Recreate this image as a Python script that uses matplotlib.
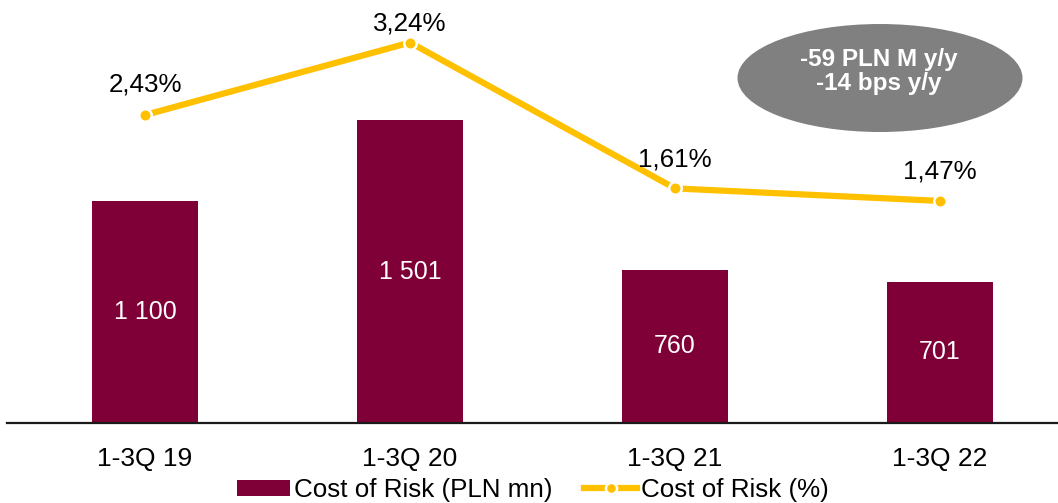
import matplotlib
matplotlib.use("Agg")
import matplotlib.pyplot as plt
from matplotlib.patches import Ellipse
from matplotlib.lines import Line2D
from matplotlib.patches import Patch

plt.rcParams['font.family'] = ['Liberation Sans', 'DejaVu Sans']

categories = ["1-3Q 19", "1-3Q 20", "1-3Q 21", "1-3Q 22"]
cost_pln = [1100, 1501, 760, 701]
cost_pct = [2.43, 3.24, 1.61, 1.47]
bar_labels = ["1 100", "1 501", "760", "701"]
pct_labels = ["2,43%", "3,24%", "1,61%", "1,47%"]

BAR_COLOR = "#7F0037"
LINE_COLOR = "#FFC000"

fig = plt.figure(figsize=(10.58, 5.03), dpi=100)
W, H = 1058, 503
ax = fig.add_axes([7 / W, (H - 423) / H, (W - 7) / W, 423 / H])
x = list(range(len(categories)))

ax.bar(x, cost_pln, width=0.4, color=BAR_COLOR, zorder=2)
ax.set_xlim(-0.521, 3.445)
ax.set_ylim(0, 2096)
for xi, v, lab in zip(x, cost_pln, bar_labels):
    ax.text(xi, v / 2, lab, ha="center", va="center", color="white", fontsize=18)

for s in ["top", "right", "left"]:
    ax.spines[s].set_visible(False)
ax.spines["bottom"].set_linewidth(1.6)
ax.spines["bottom"].set_color("#1a1a1a")
ax.set_yticks([])
ax.set_xticks(x)
ax.set_xticklabels(categories, fontsize=19)
ax.tick_params(axis="x", length=0, pad=17)

ax2 = ax.twinx()
ax2.set_ylim(-1.011, 3.715)
ax2.set_yticks([])
for s in ax2.spines.values():
    s.set_visible(False)
ax2.plot(x, cost_pct, color=LINE_COLOR, lw=4.5, marker="o", markersize=9,
         markerfacecolor=LINE_COLOR, markeredgecolor="white", markeredgewidth=1.8,
         zorder=3, solid_capstyle="butt")
# distance in pixels from each point to its label baseline
offsets = [24, 12, 22, 22]
for xi, v, lab, off in zip(x, cost_pct, pct_labels, offsets):
    ax2.annotate(lab, (xi, v), xytext=(0, off), textcoords="offset pixels",
                 ha="center", va="baseline", fontsize=18.7, color="black")

# summary bubble
ell = Ellipse((880 / W, 1 - 78 / H), 285 / W, 108 / H, transform=fig.transFigure,
              facecolor="#808080", edgecolor="none", zorder=5)
fig.patches.append(ell)
fig.text(879 / W, 1 - 66 / H, "-59 PLN M y/y", ha="center", va="baseline",
         color="white", fontsize=17.5, fontweight="bold", zorder=6)
fig.text(879 / W, 1 - 90 / H, "-14 bps y/y", ha="center", va="baseline",
         color="white", fontsize=17.5, fontweight="bold", zorder=6)

handles = [
    Patch(facecolor=BAR_COLOR, edgecolor="none"),
    Line2D([0], [0], color=LINE_COLOR, lw=4.5, marker="o", markersize=8,
           markerfacecolor=LINE_COLOR, markeredgecolor="white", markeredgewidth=1.8),
]
fig.legend(handles, ["Cost of Risk (PLN mn)", "Cost of Risk (%)"],
           loc="center", bbox_to_anchor=(533 / W, 1 - 490 / H), ncol=2,
           frameon=False, fontsize=18.7, handlelength=2.05, handletextpad=0.15,
           columnspacing=1.2, handleheight=0.55, borderpad=0, borderaxespad=0)

fig.savefig("out.png", dpi=100)
